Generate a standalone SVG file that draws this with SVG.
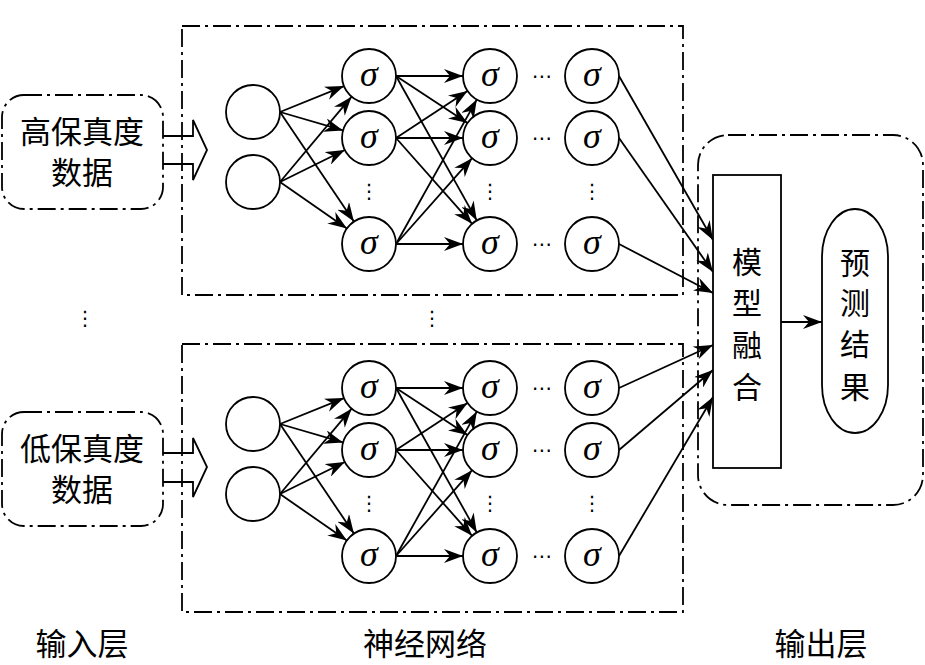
<svg xmlns="http://www.w3.org/2000/svg" width="925" height="665" viewBox="0 0 925 665">
<defs>
<style>
.dd{fill:none;stroke:#000;stroke-width:1.8;stroke-dasharray:18 5 3 5}
.nd{fill:#fff;stroke:#000;stroke-width:1.8}
.ln{fill:none;stroke:#000;stroke-width:1.8}
.ar{fill:none;stroke:#000;stroke-width:1.8;marker-end:url(#ah)}
.cj{font-family:"Noto Sans CJK SC","Noto Sans CJK JP",sans-serif;font-size:31px;fill:#000;text-anchor:middle}
.cv{font-family:"Noto Sans CJK SC","Noto Sans CJK JP",sans-serif;font-size:30px;fill:#000;text-anchor:middle}
.sg{font-family:"Liberation Serif",serif;font-style:italic;font-size:36px;fill:#000;text-anchor:middle}
.dt{font-family:"DejaVu Sans",sans-serif;font-size:20px;fill:#000;text-anchor:middle}
</style>
<marker id="ah" markerWidth="19" markerHeight="14" refX="19" refY="7" orient="auto" markerUnits="userSpaceOnUse">
<path d="M0,0 L19,7 L0,14 L6,7 z" fill="#000"/>
</marker>
</defs>
<rect width="925" height="665" fill="#fff"/>

<!-- frames -->
<g id="frames">
<rect class="dd" x="182" y="26" width="501" height="269"/>
<rect class="dd" x="182" y="344" width="501" height="268"/>
</g>

<!-- input boxes -->
<g id="hf-input">
<rect class="dd" x="2" y="95" width="161" height="114" rx="22"/>
<text class="cj" x="82" y="143">高保真度</text>
<text class="cj" x="82" y="184">数据</text>
</g>
<g id="lf-input">
<rect class="dd" x="2" y="412" width="161" height="114" rx="22"/>
<text class="cj" x="82" y="460">低保真度</text>
<text class="cj" x="82" y="501">数据</text>
</g>
<g id="block-arrows">
<polyline class="ln" points="163,136 193,136 193,120 207,150 193,180 193,164 163,164"/>
<polyline class="ln" points="163,453 193,453 193,438 207,467 193,497 193,482 163,482"/>
</g>

<!-- connectors -->
<g id="connectors">
<!-- top network -->
<line class="ar" x1="280" y1="112" x2="344" y2="86.1"/>
<line class="ar" x1="280" y1="112" x2="343.1" y2="130.4"/>
<line class="ar" x1="280" y1="112" x2="353.9" y2="221.6"/>
<line class="ar" x1="280" y1="182" x2="351.6" y2="96.7"/>
<line class="ar" x1="280" y1="182" x2="344.8" y2="150"/>
<line class="ar" x1="280" y1="182" x2="346.9" y2="228.6"/>
<line class="ar" x1="396" y1="76" x2="463" y2="76"/>
<line class="ar" x1="396" y1="76" x2="467.5" y2="123.1"/>
<line class="ar" x1="396" y1="76" x2="476.8" y2="220.4"/>
<line class="ar" x1="396" y1="138" x2="467.5" y2="90.9"/>
<line class="ar" x1="396" y1="138" x2="463" y2="138"/>
<line class="ar" x1="396" y1="138" x2="472.1" y2="223.8"/>
<line class="ar" x1="396" y1="244" x2="476.8" y2="99.6"/>
<line class="ar" x1="396" y1="244" x2="472.1" y2="158.2"/>
<line class="ar" x1="396" y1="244" x2="463" y2="244"/>
<line class="ar" x1="619" y1="76" x2="713" y2="240"/>
<line class="ar" x1="619" y1="138" x2="713" y2="272"/>
<line class="ar" x1="619" y1="244" x2="713" y2="293"/>
<!-- bottom network -->
<line class="ar" x1="280" y1="424" x2="344" y2="398.1"/>
<line class="ar" x1="280" y1="424" x2="343.1" y2="442.4"/>
<line class="ar" x1="280" y1="424" x2="353.9" y2="533.6"/>
<line class="ar" x1="280" y1="494" x2="351.6" y2="408.7"/>
<line class="ar" x1="280" y1="494" x2="344.8" y2="462"/>
<line class="ar" x1="280" y1="494" x2="346.9" y2="540.6"/>
<line class="ar" x1="396" y1="388" x2="463" y2="388"/>
<line class="ar" x1="396" y1="388" x2="467.5" y2="435.1"/>
<line class="ar" x1="396" y1="388" x2="476.8" y2="532.4"/>
<line class="ar" x1="396" y1="450" x2="467.5" y2="402.9"/>
<line class="ar" x1="396" y1="450" x2="463" y2="450"/>
<line class="ar" x1="396" y1="450" x2="472.1" y2="535.8"/>
<line class="ar" x1="396" y1="556" x2="476.8" y2="411.6"/>
<line class="ar" x1="396" y1="556" x2="472.1" y2="470.2"/>
<line class="ar" x1="396" y1="556" x2="463" y2="556"/>
<line class="ar" x1="619" y1="388" x2="713" y2="345"/>
<line class="ar" x1="619" y1="450" x2="713" y2="370"/>
<line class="ar" x1="619" y1="556" x2="713" y2="397"/>
<!-- fusion to result -->
<line class="ar" x1="781" y1="322" x2="822" y2="322"/>
</g>

<!-- top network nodes -->
<g id="top-in1"><circle class="nd" cx="253" cy="112" r="27"/></g>
<g id="top-in2"><circle class="nd" cx="253" cy="182" r="27"/></g>
<g id="top-a1"><circle class="nd" cx="369" cy="76" r="27"/><text class="sg" x="369" y="86">σ</text></g>
<g id="top-a2"><circle class="nd" cx="369" cy="138" r="27"/><text class="sg" x="369" y="148">σ</text></g>
<g id="top-a3"><circle class="nd" cx="369" cy="244" r="27"/><text class="sg" x="369" y="254">σ</text></g>
<g id="top-b1"><circle class="nd" cx="490" cy="76" r="27"/><text class="sg" x="490" y="86">σ</text></g>
<g id="top-b2"><circle class="nd" cx="490" cy="138" r="27"/><text class="sg" x="490" y="148">σ</text></g>
<g id="top-b3"><circle class="nd" cx="490" cy="244" r="27"/><text class="sg" x="490" y="254">σ</text></g>
<g id="top-c1"><circle class="nd" cx="592" cy="76" r="27"/><text class="sg" x="592" y="86">σ</text></g>
<g id="top-c2"><circle class="nd" cx="592" cy="138" r="27"/><text class="sg" x="592" y="148">σ</text></g>
<g id="top-c3"><circle class="nd" cx="592" cy="244" r="27"/><text class="sg" x="592" y="254">σ</text></g>

<!-- bottom network nodes -->
<g id="bot-in1"><circle class="nd" cx="253" cy="424" r="27"/></g>
<g id="bot-in2"><circle class="nd" cx="253" cy="494" r="27"/></g>
<g id="bot-a1"><circle class="nd" cx="369" cy="388" r="27"/><text class="sg" x="369" y="398">σ</text></g>
<g id="bot-a2"><circle class="nd" cx="369" cy="450" r="27"/><text class="sg" x="369" y="460">σ</text></g>
<g id="bot-a3"><circle class="nd" cx="369" cy="556" r="27"/><text class="sg" x="369" y="566">σ</text></g>
<g id="bot-b1"><circle class="nd" cx="490" cy="388" r="27"/><text class="sg" x="490" y="398">σ</text></g>
<g id="bot-b2"><circle class="nd" cx="490" cy="450" r="27"/><text class="sg" x="490" y="460">σ</text></g>
<g id="bot-b3"><circle class="nd" cx="490" cy="556" r="27"/><text class="sg" x="490" y="566">σ</text></g>
<g id="bot-c1"><circle class="nd" cx="592" cy="388" r="27"/><text class="sg" x="592" y="398">σ</text></g>
<g id="bot-c2"><circle class="nd" cx="592" cy="450" r="27"/><text class="sg" x="592" y="460">σ</text></g>
<g id="bot-c3"><circle class="nd" cx="592" cy="556" r="27"/><text class="sg" x="592" y="566">σ</text></g>

<!-- ellipses -->
<g id="dots">
<text class="dt" x="542" y="83">⋯</text>
<text class="dt" x="542" y="145">⋯</text>
<text class="dt" x="542" y="251">⋯</text>
<text class="dt" x="542" y="395">⋯</text>
<text class="dt" x="542" y="457">⋯</text>
<text class="dt" x="542" y="563">⋯</text>
<text class="dt" x="369" y="198">⋮</text>
<text class="dt" x="490" y="198">⋮</text>
<text class="dt" x="592" y="198">⋮</text>
<text class="dt" x="369" y="510">⋮</text>
<text class="dt" x="490" y="510">⋮</text>
<text class="dt" x="592" y="510">⋮</text>
<text class="dt" x="85" y="325">⋮</text>
<text class="dt" x="432" y="325">⋮</text>
</g>

<!-- output -->
<g id="output-frame"><rect class="dd" x="698" y="135" width="225" height="370" rx="30"/></g>
<g id="fusion">
<rect class="nd" x="713" y="175" width="68" height="293"/>
<text class="cv" x="747" y="273">模</text>
<text class="cv" x="747" y="314">型</text>
<text class="cv" x="747" y="356">融</text>
<text class="cv" x="747" y="398">合</text>
</g>
<g id="result">
<rect class="nd" x="822" y="209" width="66" height="224" rx="33" ry="48"/>
<text class="cv" x="855" y="274">预</text>
<text class="cv" x="855" y="314">测</text>
<text class="cv" x="855" y="355">结</text>
<text class="cv" x="855" y="398">果</text>
</g>

<!-- layer labels -->
<g id="labels">
<text class="cj" x="82" y="655">输入层</text>
<text class="cj" x="425" y="655">神经网络</text>
<text class="cj" x="821" y="655">输出层</text>
</g>
</svg>
